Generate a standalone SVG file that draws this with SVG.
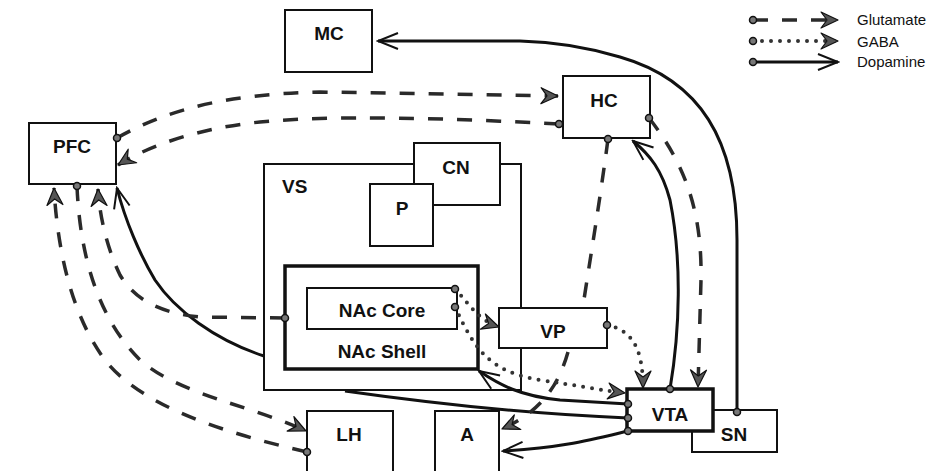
<svg xmlns="http://www.w3.org/2000/svg" width="948" height="471" viewBox="0 0 948 471">
<style>
.box{fill:#fff;stroke:#111;stroke-width:2}
.thick{stroke-width:3.5}
.lbl{font-family:"Liberation Sans",Arial,sans-serif;font-weight:bold;font-size:19px;text-anchor:middle;fill:#111}
.leg{font-family:"Liberation Sans",Arial,sans-serif;font-size:15px;fill:#111}
.glu{fill:none;stroke:#2a2a2a;stroke-width:3.5;stroke-dasharray:15 14}
.gaba{fill:none;stroke:#333;stroke-width:4;stroke-linecap:round;stroke-dasharray:0 9}
.da{fill:none;stroke:#111;stroke-width:3}
</style>
<defs>
<marker id="ah" viewBox="-20 -10 22 20" refX="0" refY="0" markerWidth="22" markerHeight="20" markerUnits="userSpaceOnUse" orient="auto">
<path d="M0,0 L-17,-8 L-11,0 L-17,8 Z" fill="#555" stroke="#111" stroke-width="1.2" stroke-linejoin="round"/>
</marker>
<marker id="ahd" viewBox="-22 -10 24 20" refX="0" refY="0" markerWidth="24" markerHeight="20" markerUnits="userSpaceOnUse" orient="auto">
<path d="M-20,-8 L0,0 L-20,8" fill="none" stroke="#111" stroke-width="2"/>
</marker>
<marker id="dot" viewBox="-5 -5 10 10" refX="0" refY="0" markerWidth="10" markerHeight="10" markerUnits="userSpaceOnUse">
<circle r="3.5" fill="#777" stroke="#111" stroke-width="1.5"/>
</marker>
</defs>

<g id="nodes">
<g id="MC"><rect class="box" x="285" y="10" width="87" height="62"/><text class="lbl" x="329" y="40">MC</text></g>
<g id="HC"><rect class="box" x="563" y="76" width="87" height="62"/><text class="lbl" x="604" y="107">HC</text></g>
<g id="PFC"><rect class="box" x="29" y="123" width="87" height="61"/><text class="lbl" x="72" y="153">PFC</text></g>
<g id="VS"><rect class="box" x="264" y="164" width="257" height="226"/><text class="lbl" x="282" y="193" style="text-anchor:start">VS</text></g>
<g id="CN"><rect class="box" x="414" y="143" width="86" height="62"/><text class="lbl" x="456" y="174">CN</text></g>
<g id="P"><rect class="box" x="370" y="184" width="63" height="62"/><text class="lbl" x="402" y="215">P</text></g>
<g id="NAcShell"><rect class="box thick" x="285" y="266" width="193" height="103"/><text class="lbl" x="382" y="358">NAc Shell</text></g>
<g id="NAcCore"><rect class="box" x="307" y="288" width="150" height="41"/><text class="lbl" x="382" y="317">NAc Core</text></g>
<g id="VP"><rect class="box" x="499" y="308" width="108" height="40"/><text class="lbl" x="553" y="338">VP</text></g>
<g id="LH"><rect class="box" x="307" y="411" width="86" height="70"/><text class="lbl" x="349" y="441">LH</text></g>
<g id="A"><rect class="box" x="435" y="411" width="64" height="70"/><text class="lbl" x="467" y="441">A</text></g>
<g id="SN"><rect class="box" x="692" y="410" width="85" height="42"/><text class="lbl" x="734" y="441">SN</text></g>
<g id="VTA"><rect class="box thick" x="627" y="389" width="86" height="42"/><text class="lbl" x="670" y="421">VTA</text></g>
</g>

<g id="connectors">
<!-- Dopamine -->
<path class="da" d="M737,412 L737,240 C737,140 700,80 620,57 C590,48 560,42 520,41 L378,41" marker-start="url(#dot)" marker-end="url(#ahd)"/>
<path class="da" d="M670,389 C680,330 682,260 670,200 C662,170 650,155 633,141" marker-start="url(#dot)" marker-end="url(#ahd)"/>
<path class="da" d="M628,404 L560,400 C520,396 500,385 479,371" marker-start="url(#dot)" marker-end="url(#ahd)"/>
<path class="da" d="M628,418 Q500,413 345,391" marker-start="url(#dot)"/>
<path class="da" d="M264,356 C215,340 175,310 155,280 C140,255 125,220 117,188" marker-end="url(#ahd)"/>
<path class="da" d="M628,431 C590,440 560,448 503,451" marker-start="url(#dot)" marker-end="url(#ahd)"/>
<!-- Glutamate -->
<path class="glu" d="M117,138 C170,108 230,94 320,92 L558,96" marker-start="url(#dot)" marker-end="url(#ah)"/>
<path class="glu" d="M559,124 C450,118 330,115 260,122 C200,128 150,145 118,165" marker-start="url(#dot)" marker-end="url(#ah)"/>
<path class="glu" d="M649,118 C690,170 702,220 701,280 L698,387" marker-start="url(#dot)" marker-end="url(#ah)"/>
<path class="glu" d="M608,139 C600,200 590,260 583,306 M568,352 C560,380 545,410 502,429" marker-start="url(#dot)" marker-end="url(#ah)"/>
<path class="glu" d="M285,318 L200,317 C160,313 135,300 120,275 C108,250 100,220 98,189" marker-start="url(#dot)" marker-end="url(#ah)"/>
<path class="glu" d="M77,186 C80,260 100,320 140,360 C180,395 250,405 306,431" marker-start="url(#dot)" marker-end="url(#ah)"/>
<path class="glu" d="M307,452 C220,432 140,405 105,360 C75,320 58,260 54,188" marker-start="url(#dot)" marker-end="url(#ah)"/>
<!-- GABA -->
<path class="gaba" d="M455,289 C470,305 478,320 499,327" marker-start="url(#dot)" marker-end="url(#ah)"/>
<path class="gaba" d="M455,307 C475,350 490,372 540,380 C580,386 600,390 625,393" marker-start="url(#dot)" marker-end="url(#ah)"/>
<path class="gaba" d="M607,325 C630,330 643,345 643,388" marker-start="url(#dot)" marker-end="url(#ah)"/>
</g>

<g id="legend">
<path class="glu" d="M753,20 L838,20" marker-start="url(#dot)" marker-end="url(#ah)"/>
<path class="gaba" d="M753,41 L838,41" marker-start="url(#dot)" marker-end="url(#ah)"/>
<path class="da" d="M753,62 L838,62" marker-start="url(#dot)" marker-end="url(#ahd)"/>
<text class="leg" x="857" y="25">Glutamate</text>
<text class="leg" x="857" y="47">GABA</text>
<text class="leg" x="857" y="67">Dopamine</text>
</g>
</svg>
